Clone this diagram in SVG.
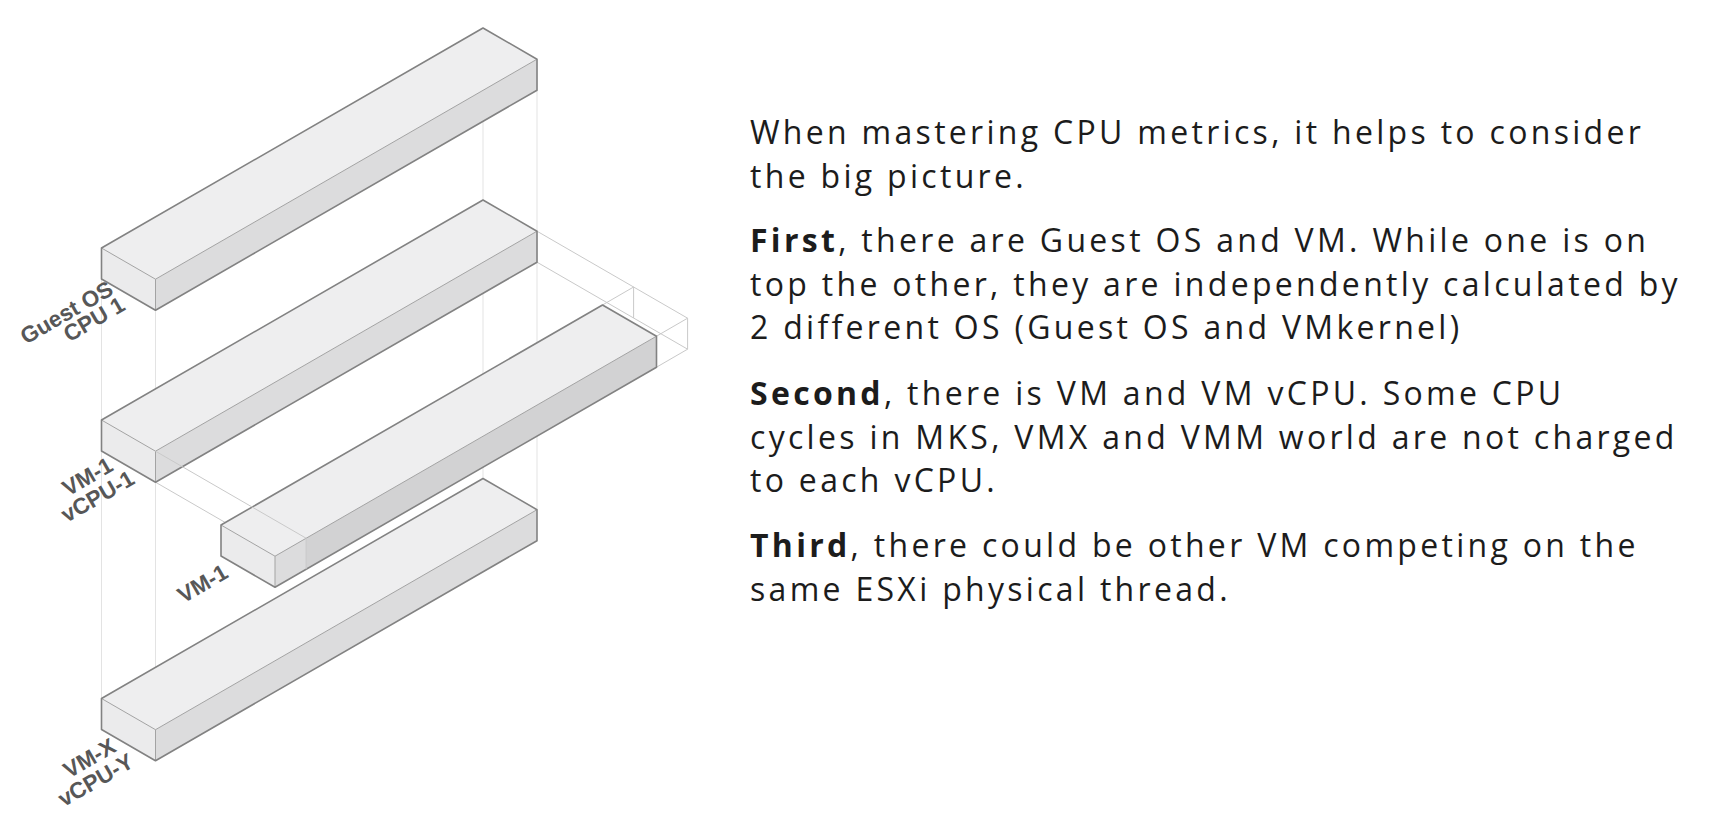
<svg xmlns="http://www.w3.org/2000/svg" width="1717" height="822" viewBox="0 0 1717 822">
<style>
.guide{stroke:#e3e3e3;stroke-width:1;fill:none}
.ghost{stroke:#c9c9c9;stroke-width:1;fill:none}
.top{fill:#eeeeef}
.front{fill:#ebebec}
.side{fill:#dcdcdd}
.side3{fill:#d2d2d3}
.outline{fill:none;stroke:#828282;stroke-width:1.6;stroke-linejoin:round}
.inner{fill:none;stroke:#a3a3a3;stroke-width:1}
.lbl{font-family:"Liberation Sans",Arial,sans-serif;font-weight:700;font-size:22.5px;fill:#575757;text-anchor:end}
.body{font-family:"Open Sans",sans-serif;font-size:32px;fill:#1c1c1c;letter-spacing:3.3px}
.b{font-weight:700}
</style>
<rect width="1717" height="822" fill="#ffffff"/>
<g id="guides">
<line class="guide" x1="101.5" y1="279" x2="101.5" y2="698.5"/>
<line class="guide" x1="155.5" y1="310" x2="155.5" y2="729.7"/>
<line class="guide" x1="483" y1="28" x2="483" y2="478.5"/>
<line class="guide" x1="537" y1="59" x2="537" y2="509.7"/>
</g>
<g id="connectors">
<line class="ghost" x1="155.5" y1="482.2" x2="306.1" y2="569.2"/>
<line class="ghost" x1="537" y1="231.2" x2="687.6" y2="318.2"/>
<line class="ghost" x1="537" y1="262.2" x2="687.6" y2="349.2"/>
<line class="ghost" x1="687.6" y1="318.2" x2="687.6" y2="349.2"/>
<line class="ghost" x1="633.6" y1="287" x2="602.5" y2="305"/>
<line class="ghost" x1="633.6" y1="287" x2="633.6" y2="318"/>
<line class="ghost" x1="656.5" y1="336.2" x2="687.6" y2="318.2"/>
<line class="ghost" x1="656.5" y1="367.2" x2="687.6" y2="349.2"/>
</g>
<g id="box-guest-os">
<polygon class="top" points="101.5,248 483,28 537,59.2 155.5,279.2"/>
<polygon class="front" points="101.5,248 155.5,279.2 155.5,310.2 101.5,279"/>
<polygon class="side" points="155.5,279.2 537,59.2 537,90.2 155.5,310.2"/>
<polyline class="inner" points="101.5,248 155.5,279.2 537,59.2"/>
<line class="inner" x1="155.5" y1="279.2" x2="155.5" y2="310.2"/>
<polygon class="outline" points="101.5,248 483,28 537,59.2 537,90.2 155.5,310.2 101.5,279"/>
<text class="lbl" transform="translate(114.8,293.4) rotate(-30)">Guest OS</text>
<text class="lbl" transform="translate(126.7,309.3) rotate(-30)">CPU 1</text>
</g>
<g id="box-vm1-vcpu1">
<polygon class="top" points="101.5,420 483,200 537,231.2 155.5,451.2"/>
<polygon class="front" points="101.5,420 155.5,451.2 155.5,482.2 101.5,451"/>
<polygon class="side" points="155.5,451.2 537,231.2 537,262.2 155.5,482.2"/>
<polyline class="inner" points="101.5,420 155.5,451.2 537,231.2"/>
<line class="inner" x1="155.5" y1="451.2" x2="155.5" y2="482.2"/>
<polygon class="outline" points="101.5,420 483,200 537,231.2 537,262.2 155.5,482.2 101.5,451"/>
<text class="lbl" transform="translate(114.6,469.8) rotate(-30)">VM-1</text>
<text class="lbl" transform="translate(136.1,483.1) rotate(-30)">vCPU-1</text>
</g>
<g id="box-vm1">
<polygon class="top" points="221,525 602.5,305 656.5,336.2 275,556.2"/>
<polygon class="front" points="221,525 275,556.2 275,587.2 221,556"/>
<polygon class="side3" points="275,556.2 656.5,336.2 656.5,367.2 275,587.2"/>
<polygon class="side" points="275,556.2 306.1,538.2 306.1,569.2 275,587.2"/>
<polyline class="inner" points="221,525 275,556.2 656.5,336.2"/>
<line class="inner" x1="275" y1="556.2" x2="275" y2="587.2"/>
<polygon class="outline" points="221,525 602.5,305 656.5,336.2 656.5,367.2 275,587.2 221,556"/>
<text class="lbl" transform="translate(229.7,576.8) rotate(-30)">VM-1</text>
</g>
<g id="ghost-overlay">
<line class="ghost" x1="155.5" y1="451.2" x2="306.1" y2="538.2"/>
<line class="ghost" x1="306.1" y1="538.2" x2="306.1" y2="569.2"/>
</g>
<g id="box-vmx-vcpuy">
<polygon class="top" points="101.5,698.5 483,478.5 537,509.7 155.5,729.7"/>
<polygon class="front" points="101.5,698.5 155.5,729.7 155.5,760.7 101.5,729.5"/>
<polygon class="side" points="155.5,729.7 537,509.7 537,540.7 155.5,760.7"/>
<polyline class="inner" points="101.5,698.5 155.5,729.7 537,509.7"/>
<line class="inner" x1="155.5" y1="729.7" x2="155.5" y2="760.7"/>
<polygon class="outline" points="101.5,698.5 483,478.5 537,509.7 537,540.7 155.5,760.7 101.5,729.5"/>
<text class="lbl" transform="translate(117.6,750.7) rotate(-30)">VM-X</text>
<text class="lbl" transform="translate(135.2,766) rotate(-30)">vCPU-Y</text>
</g>
<g id="description">
<text class="body" x="750" y="144">When mastering CPU metrics, it helps to consider</text>
<text class="body" x="750" y="187.5">the big picture.</text>
<text class="body" x="750" y="252"><tspan class="b">First</tspan>, there are Guest OS and VM. While one is on</text>
<text class="body" x="750" y="295.5">top the other, they are independently calculated by</text>
<text class="body" x="750" y="339">2 different OS (Guest OS and VMkernel)</text>
<text class="body" x="750" y="405"><tspan class="b">Second</tspan>, there is VM and VM vCPU. Some CPU</text>
<text class="body" x="750" y="448.5">cycles in MKS, VMX and VMM world are not charged</text>
<text class="body" x="750" y="492">to each vCPU.</text>
<text class="body" x="750" y="557"><tspan class="b">Third</tspan>, there could be other VM competing on the</text>
<text class="body" x="750" y="600.5">same ESXi physical thread.</text>
</g>
</svg>
